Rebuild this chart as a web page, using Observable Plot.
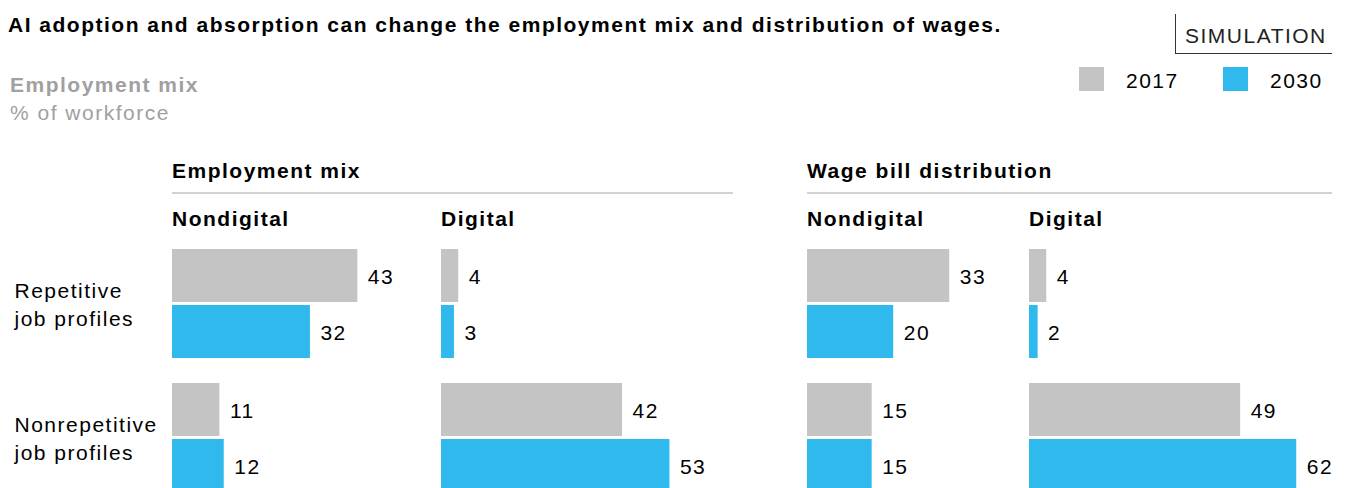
<!DOCTYPE html>
<html>
<head>
<meta charset="utf-8">
<script src="https://cdn.jsdelivr.net/npm/d3@7"></script>
<script src="https://cdn.jsdelivr.net/npm/@observablehq/plot@0.6"></script>
<style>
  html, body { margin: 0; padding: 0; background: #fff; }
  body { width: 1348px; height: 488px; overflow: hidden; position: relative;
         font-family: "Liberation Sans", Arial, sans-serif; letter-spacing: 1.5px; }
  .t { position: absolute; white-space: nowrap; line-height: 1; }
  .b { font-weight: bold; }
  .abs { position: absolute; }
</style>
</head>
<body>
<div id="root"></div>
<script>
// ---------- data ----------
const profiles = ["Repetitive", "Nonrepetitive"];
const profileLabels = ["Repetitive\njob profiles", "Nonrepetitive\njob profiles"];
const years = ["2017", "2030"];
const yearColors = ["#c4c4c4", "#2fb9ec"];
// order: Repetitive 2017, Repetitive 2030, Nonrepetitive 2017, Nonrepetitive 2030
const employmentNondigital = [43, 32, 11, 12];
const employmentDigital = [4, 3, 42, 53];
const wageNondigital = [33, 20, 15, 15];
const wageDigital = [4, 2, 49, 62];

const titleText = "AI adoption and absorption can change the employment mix and distribution of wages.";
const subtitleText = "Employment mix";
const unitText = "% of workforce";
const sections = ["Employment mix", "Wage bill distribution"];
const groups = ["Nondigital", "Digital"];

// ---------- layout ----------
const FONT = '"Liberation Sans", Arial, sans-serif';
const FS = 21;
const PX = 4.31;          // pixels per percentage point
const PLOT_TOP = 249;
const PLOT_H = 243;
const body = document.body;

function text(str, left, baseline, size, opts = {}) {
  const d = document.createElement("div");
  d.className = "t" + (opts.bold ? " b" : "");
  d.textContent = str;
  d.style.left = left + "px";
  d.style.top = (baseline - 0.8465 * size) + "px";
  d.style.fontSize = size + "px";
  d.style.color = opts.color || "#000";
  body.appendChild(d);
  return d;
}
function box(left, top, w, h, css) {
  const d = document.createElement("div");
  d.className = "abs";
  Object.assign(d.style, {left: left + "px", top: top + "px", width: w + "px", height: h + "px"}, css);
  body.appendChild(d);
  return d;
}

// header
text(titleText, 8, 32, FS, {bold: true});
text(subtitleText, 10, 92, FS, {bold: true, color: "#a0a0a0"});
text(unitText, 10, 120, FS, {color: "#a0a0a0"});

// SIMULATION tag
box(1175, 14, 157, 40, {borderLeft: "1px solid #333", borderBottom: "1px solid #333", boxSizing: "border-box"});
text("SIMULATION", 1185, 43, FS, {color: "#222"});

// legend
const legendX = [1079, 1223];
years.forEach((y, i) => {
  box(legendX[i], 67, 25, 24, {background: yearColors[i]});
  text(y, legendX[i] + 47, 88, FS);
});

// section headers
const sectionX = [172, 807];
const sectionW = [561, 525];
sections.forEach((s, i) => {
  text(s, sectionX[i], 178, FS, {bold: true});
  box(sectionX[i], 192, sectionW[i], 2, {background: "#d2d2d2"});
});

// panels
const panels = [
  {values: employmentNondigital, x0: 172, w: 260, group: 0, labels: true},
  {values: employmentDigital,    x0: 441, w: 300, group: 1},
  {values: wageNondigital,       x0: 807, w: 215, group: 0},
  {values: wageDigital,          x0: 1029, w: 319, group: 1}
];

panels.forEach(p => {
  text(groups[p.group], p.x0, 226, FS, {bold: true});
  const rows = [];
  profiles.forEach((pr, i) => years.forEach((y, j) => rows.push({profile: pr, year: y, value: p.values[i * 2 + j]})));
  const marginLeft = p.labels ? p.x0 : 0;
  const chart = Plot.plot({
    width: marginLeft + p.w,
    height: PLOT_H,
    marginLeft, marginRight: 0, marginTop: 0, marginBottom: 0,
    x: {domain: [0, p.w / PX], axis: null},
    y: {domain: years, axis: null, paddingInner: 3 / 56, paddingOuter: 0},
    fy: {domain: profiles, axis: null, paddingInner: 25 / 134, paddingOuter: 0},
    color: {domain: years, range: yearColors},
    style: {fontFamily: FONT, fontSize: FS + "px", letterSpacing: "1.5px", color: "#000", background: "transparent", overflow: "visible"},
    marks: [
      Plot.barX(rows, {x: "value", y: "year", fy: "profile", fill: "year"}),
      Plot.text(rows, {x: "value", y: "year", fy: "profile", text: d => String(d.value),
        dx: 10, dy: 1, textAnchor: "start", fontSize: FS, fill: "#000"}),
      p.labels ? Plot.text(profiles, {fy: d => d, text: (d, i) => profileLabels[i], frameAnchor: "left",
        dx: -158, dy: -1, textAnchor: "start", lineHeight: 1.35, fontSize: FS, fill: "#000"}) : null
    ]
  });
  chart.style.position = "absolute";
  chart.style.left = (p.x0 - marginLeft) + "px";
  chart.style.top = PLOT_TOP + "px";
  body.appendChild(chart);
});
</script>
</body>
</html>
